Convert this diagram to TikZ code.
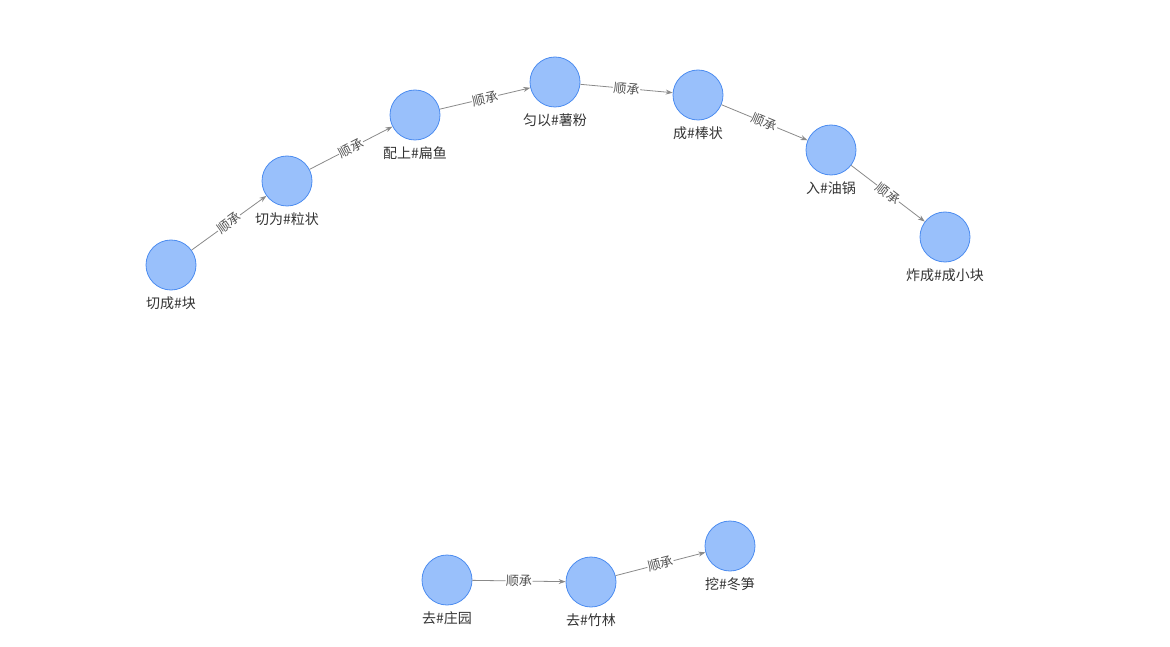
\documentclass[tikz,border=0pt]{standalone}
\usepackage{fontspec}
\setmainfont{Noto Sans CJK SC}
\usetikzlibrary{arrows.meta}
\definecolor{nodefill}{HTML}{99C0FB}
\definecolor{nodeline}{HTML}{4C8CF0}
\definecolor{edgecol}{HTML}{8A8A8A}
\definecolor{txt}{HTML}{333333}
\begin{document}
\begin{tikzpicture}[x=1pt,y=-1pt,
  ent/.style={circle,minimum size=50pt,inner sep=0pt,fill=nodefill,draw=nodeline,line width=0.8pt},
  lab/.style={font=\fontsize{14}{16}\selectfont,text=txt,inner sep=0pt},
  rel/.style={draw=edgecol,line width=0.8pt,-{Stealth[length=7pt,width=5pt]}},
  rl/.style={font=\fontsize{13}{15}\selectfont,text=txt!85,fill=white,inner sep=0.5pt,sloped,midway}]
\useasboundingbox (0,0) rectangle (1170,647);
\node[ent] (A) at (171,265) {};
\node[ent] (B) at (287,181) {};
\node[ent] (C) at (415,115) {};
\node[ent] (D) at (555,82) {};
\node[ent] (E) at (698,95) {};
\node[ent] (F) at (831,150) {};
\node[ent] (G) at (945,237) {};
\node[ent] (H) at (447,580) {};
\node[ent] (I) at (591,582) {};
\node[ent] (J) at (730,546) {};
\node[lab] (lA) at (171,303) {切成\#块};
\node[lab] (lB) at (287,219) {切为\#粒状};
\node[lab] (lC) at (415,153) {配上\#扁鱼};
\node[lab] (lD) at (555,120) {匀以\#薯粉};
\node[lab] (lE) at (698,133) {成\#棒状};
\node[lab] (lF) at (831,188) {入\#油锅};
\node[lab] (lG) at (945,275) {炸成\#成小块};
\node[lab] (lH) at (447,618) {去\#庄园};
\node[lab] (lI) at (591,620) {去\#竹林};
\node[lab] (lJ) at (730,584) {挖\#冬笋};
\draw[rel] (A) -- node[rl] {顺承} (B);
\draw[rel] (B) -- node[rl] {顺承} (C);
\draw[rel] (C) -- node[rl] {顺承} (D);
\draw[rel] (D) -- node[rl] {顺承} (E);
\draw[rel] (E) -- node[rl] {顺承} (F);
\draw[rel] (F) -- node[rl] {顺承} (G);
\draw[rel] (H) -- node[rl] {顺承} (I);
\draw[rel] (I) -- node[rl] {顺承} (J);
\end{tikzpicture}
\end{document}
